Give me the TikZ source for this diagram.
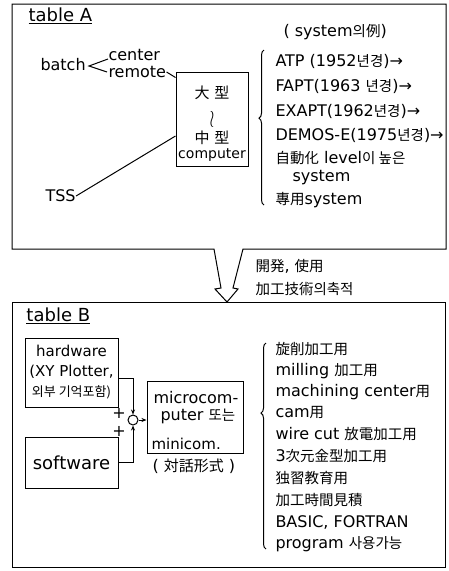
\documentclass[tikz,border=0pt]{standalone}
\usepackage{fontspec}
\setmainfont{DejaVu Sans}
\newfontfamily\krfont{Noto Sans CJK KR}
\newcommand\K[1]{{\krfont\fontsize{14.5}{14.5}\selectfont #1}}
\newcommand\KK[1]{{\krfont\fontsize{15}{15}\selectfont #1}}
\usetikzlibrary{arrows.meta,decorations.pathreplacing}
\begin{document}
\begin{tikzpicture}[x=1pt,y=-1pt,line width=1pt,
  txt/.style={anchor=west,inner sep=0pt,font=\fontsize{16}{16}\selectfont},
  ctxt/.style={inner sep=0pt,font=\fontsize{16}{16}\selectfont},
  boxn/.style={draw,inner sep=0pt},
  arr/.style={-{Stealth[length=5pt,width=4pt]}},
  brc/.style={decorate,decoration={brace,amplitude=5pt}}]
\useasboundingbox (0,0) rectangle (449,571);
% frame A with hollow arrow
\draw (214,249) -- (12,249) -- (12,4) -- (446,4) -- (446,249) -- (243,249)
      -- (233,288) -- (238,289) -- (227,302) -- (215,289) -- (221,288) -- cycle;
% frame B
\draw (12,302) rectangle (445,567);

% ---------- table A ----------
\node[txt,font=\fontsize{18}{18}\selectfont] (tA) at (28,16) {\underline{table A}};
\node[txt] (batch) at (40,65) {batch};
\node[txt] (center) at (108,55) {center};
\node[txt] (remote) at (108,72) {remote};
\coordinate (lt) at (89,66);
\draw ([yshift=-4pt]center.west) -- (lt) -- ([xshift=-1pt]remote.west);
\node[txt] (tss) at (45,196) {TSS};
\node[boxn,minimum width=72pt,minimum height=94pt] (comp) at (212,119) {};
\node[ctxt] (c1) at (212,93) {\KK{大\,\,型}};
\node[ctxt] (c2) at (212,119) {\scalebox{1}[1.4]{$\wr$}};
\node[ctxt] (c3) at (212,138) {\KK{中\,\,型}};
\node[ctxt,font=\fontsize{14}{14}\selectfont] (c4) at (212,155) {computer};
\draw (remote.east) -- ([yshift=-6pt]comp.north west);
\draw (tss.east) -- ([yshift=-17pt]comp.west);

\node[txt] (sysx) at (283,32) {( system\K{의例})};
\draw[brc] (264,205) -- (264,50) [decoration={aspect=0.56}];
\node[txt] (a1) at (275,61) {ATP (1952\K{년경})→};
\node[txt] (a2) at (275,86) {FAPT(1963 \K{년경})→};
\node[txt] (a3) at (275,111) {EXAPT(1962\K{년경})→};
\node[txt] (a4) at (275,135) {DEMOS-E(1975\K{년경})→};
\node[txt] (a5) at (275,158) {\K{自動化} level\K{이 높은}};
\node[txt] (a6) at (292,178) {system};
\node[txt] (a7) at (275,200) {\K{專用}system};

\node[txt] (d1) at (255,266) {\K{開発}, \K{使用}};
\node[txt] (d2) at (255,289) {\K{加工技術의축적}};

% ---------- table B ----------
\node[txt,font=\fontsize{18}{18}\selectfont] (tB) at (26,316) {\underline{table B}};
\node[boxn,minimum width=93pt,minimum height=69pt,align=center,
      font=\fontsize{15}{20}\selectfont] (hw) at (71.5,372.5)
      {hardware\\(XY Plotter,\\{\krfont\fontsize{13}{13}\selectfont 외부 기억포함)}};
\node[boxn,minimum width=93pt,minimum height=51pt,
      font=\fontsize{18}{18}\selectfont] (sw) at (71.5,462.5) {software};
\node[draw,circle,inner sep=0pt,minimum size=10pt] (sum) at (133,420) {};
\node[boxn,minimum width=96pt,minimum height=72pt] (micro) at (195,417) {};
\node[txt] (m1) at (153,398) {microcom-};
\node[txt] (m2) at (160,416) {puter \K{또는}};
\node[txt,font=\fontsize{15}{15}\selectfont] (m3) at (151,444) {minicom.};
\node[txt] (mode) at (152,466) {( \KK{対話形式} )};
\node[ctxt] (p1) at (119,413) {+};
\node[ctxt] (p2) at (119,431) {+};
\draw[arr] ([yshift=-6pt]hw.east) -| (sum.north);
\draw[arr] (sw.east) -| (sum.south);
\draw[arr] (sum.east) -- (micro.west |- sum);

\draw[brc] (266,549) -- (266,343) [decoration={aspect=0.66}];
\node[txt] (b1) at (275,349) {\K{旋削加工用}};
\node[txt] (b2) at (275,371) {milling \K{加工用}};
\node[txt] (b3) at (275,392) {machining center\K{用}};
\node[txt] (b4) at (275,413) {cam\K{用}};
\node[txt] (b5) at (275,434) {wire cut \K{放電加工用}};
\node[txt] (b6) at (275,456) {3\K{次元金型加工用}};
\node[txt] (b7) at (275,478) {\K{独習教育用}};
\node[txt] (b8) at (275,500) {\K{加工時間見積}};
\node[txt] (b9) at (275,522) {BASIC, FORTRAN};
\node[txt] (b10) at (275,544) {program \K{사용가능}};
\end{tikzpicture}
\end{document}
